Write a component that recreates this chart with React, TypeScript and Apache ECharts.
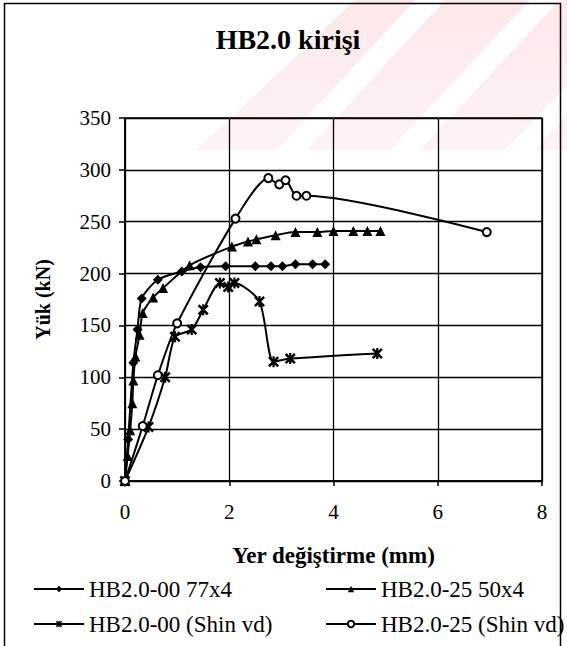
import React, { useEffect, useRef } from "react";
import * as echarts from "echarts";

const chartTitle = "HB2.0 kirişi";
const xAxisName = "Yer değiştirme (mm)";
const yAxisName = "Yük (kN)";

const seriesNames = [
  "HB2.0-00 77x4",
  "HB2.0-25 50x4",
  "HB2.0-00 (Shin vd)",
  "HB2.0-25 (Shin vd)",
];

// HB2.0-00 77x4 (diamonds)
const s1X = [0, 0.06, 0.16, 0.24, 0.32, 0.63, 1.09, 1.45, 1.93, 2.5, 2.8, 3.02, 3.27, 3.6, 3.84];
const s1Y = [0, 40, 114, 146, 176, 194, 202, 206, 207, 207, 207, 207, 209, 209, 209];

// HB2.0-25 50x4 (triangles)
const s2X = [0, 0.05, 0.1, 0.14, 0.16, 0.2, 0.28, 0.34, 0.54, 0.73, 1.24, 2.05, 2.36, 2.52, 2.89, 3.27, 3.69, 4.0, 4.38, 4.65, 4.9];
const s2Y = [0, 24, 49, 75, 97, 120, 141, 162, 177, 186, 208, 226, 231, 233, 237, 240, 240, 241, 241, 241, 241];

// HB2.0-00 (Shin vd) (asterisks)
const s3X = [0, 0.45, 0.77, 0.96, 1.28, 1.5, 1.82, 1.98, 2.1, 2.58, 2.85, 3.17, 4.84];
const s3Y = [0, 52, 100, 139, 146, 165, 191, 187, 191, 173, 115, 118, 123];

// HB2.0-25 (Shin vd) (open circles)
const s4X = [0, 0.34, 0.63, 1.0, 2.12, 2.75, 2.96, 3.08, 3.29, 3.48, 6.94];
const s4Y = [0, 53, 102, 152, 253, 292, 286, 290, 275, 275, 240];

const xMin = 0;
const xMax = 8;
const xStep = 2;
const yMin = 0;
const yMax = 350;
const yStep = 50;

const FONT = "Liberation Serif";

const asteriskPath =
  "path://M0,1.6 L1.6,0 L5,3.4 L8.4,0 L10,1.6 L6.6,5 L10,8.4 L8.4,10 L5,6.6 L1.6,10 L0,8.4 L3.4,5 Z M4,0 L6,0 L6,10 L4,10 Z";

function zip(xs: number[], ys: number[]) {
  return xs.map((x, i) => [x, ys[i]]);
}

export default function App() {
  const ref = useRef<HTMLDivElement>(null);

  useEffect(() => {
    if (!ref.current) return;
    const chart = echarts.init(ref.current, undefined, { renderer: "svg" });

    const lineStyle = { color: "#000", width: 2 };
    const mkSeries = (name: string, data: number[][], symbol: string, size: number) => ({
      name,
      type: "line",
      data,
      smooth: 0.25,
      symbol,
      symbolSize: size,
      showSymbol: true,
      lineStyle,
      itemStyle: { color: "#000", borderColor: "#000", borderWidth: symbol === "emptyCircle" ? 1.5 : 0 },
      emphasis: { disabled: true },
    });

    const legendBase = {
      itemWidth: 50,
      itemHeight: 8,
      padding: 0,
      orient: "horizontal",
      selectedMode: false,
      textStyle: { fontFamily: FONT, fontSize: 23, color: "#000", lineHeight: 24 },
    };

    const stripe = (pts: number[][]) => ({
      type: "polygon",
      z: -10,
      silent: true,
      shape: { points: pts },
      style: {
        fill: new echarts.graphic.LinearGradient(0, 0, 0, 1, [
          { offset: 0, color: "#fde7e9" },
          { offset: 1, color: "#fef3f4" },
        ]),
      },
    });

    chart.setOption({
      animation: false,
      backgroundColor: "#fff",
      title: {
        text: chartTitle,
        left: 288,
        textAlign: "center",
        top: 24,
        padding: 0,
        textStyle: { fontFamily: FONT, fontSize: 28, fontWeight: "bold", color: "#000", lineHeight: 30 },
      },
      graphic: [
        stripe([[197, 150], [277, 150], [415, 0], [355, 0]]),
        stripe([[307, 150], [390, 150], [530, 0], [445, 0]]),
        stripe([[420, 150], [505, 150], [650, 0], [560, 0]]),
        stripe([[535, 150], [620, 150], [760, 0], [670, 0]]),
        {
          type: "rect",
          z: 100,
          silent: true,
          shape: { x: 4.5, y: 3.5, width: 556, height: 670 },
          style: { fill: "none", stroke: "#000", lineWidth: 1.5 },
        },
      ],
      grid: {
        left: 125,
        right: 25,
        top: 118,
        bottom: 165,
        show: true,
        borderColor: "#000",
        borderWidth: 1.5,
        backgroundColor: "transparent",
      },
      xAxis: {
        type: "value",
        min: xMin,
        max: xMax,
        interval: xStep,
        name: xAxisName,
        nameLocation: "middle",
        nameGap: 63,
        nameTextStyle: { fontFamily: FONT, fontSize: 23, fontWeight: "bold", color: "#000" },
        axisLine: { show: true, lineStyle: { color: "#000", width: 1.5 } },
        axisTick: { show: true, inside: false, length: 5, lineStyle: { color: "#000", width: 1.5 } },
        axisLabel: { margin: 20, fontFamily: FONT, fontSize: 21, color: "#000" },
        splitLine: { show: true, lineStyle: { color: "#000", width: 1.3 } },
      },
      yAxis: {
        type: "value",
        min: yMin,
        max: yMax,
        interval: yStep,
        name: yAxisName,
        nameLocation: "middle",
        nameGap: 72,
        nameRotate: 90,
        nameTextStyle: { fontFamily: FONT, fontSize: 20, fontWeight: "bold", color: "#000" },
        axisLine: { show: true, lineStyle: { color: "#000", width: 1.5 } },
        axisTick: { show: true, inside: false, length: 6, lineStyle: { color: "#000", width: 1.5 } },
        axisLabel: { margin: 14, fontFamily: FONT, fontSize: 21, color: "#000" },
        splitLine: { show: true, lineStyle: { color: "#000", width: 1.3 } },
      },
      legend: [
        { ...legendBase, data: [seriesNames[0]], left: 33, top: 577 },
        { ...legendBase, data: [seriesNames[1]], left: 325, top: 577 },
        { ...legendBase, data: [seriesNames[2]], left: 33, top: 612 },
        { ...legendBase, data: [seriesNames[3]], left: 325, top: 612 },
      ],
      series: [
        mkSeries(seriesNames[0], zip(s1X, s1Y), "diamond", 10),
        mkSeries(seriesNames[1], zip(s2X, s2Y), "triangle", 10),
        mkSeries(seriesNames[2], zip(s3X, s3Y), asteriskPath, 11),
        mkSeries(seriesNames[3], zip(s4X, s4Y), "emptyCircle", 8),
      ],
    });

    return () => chart.dispose();
  }, []);

  return (
    <div
      ref={ref}
      style={{ position: "absolute", left: 0, top: 0, width: 567, height: 646, background: "#fff" }}
    />
  );
}
